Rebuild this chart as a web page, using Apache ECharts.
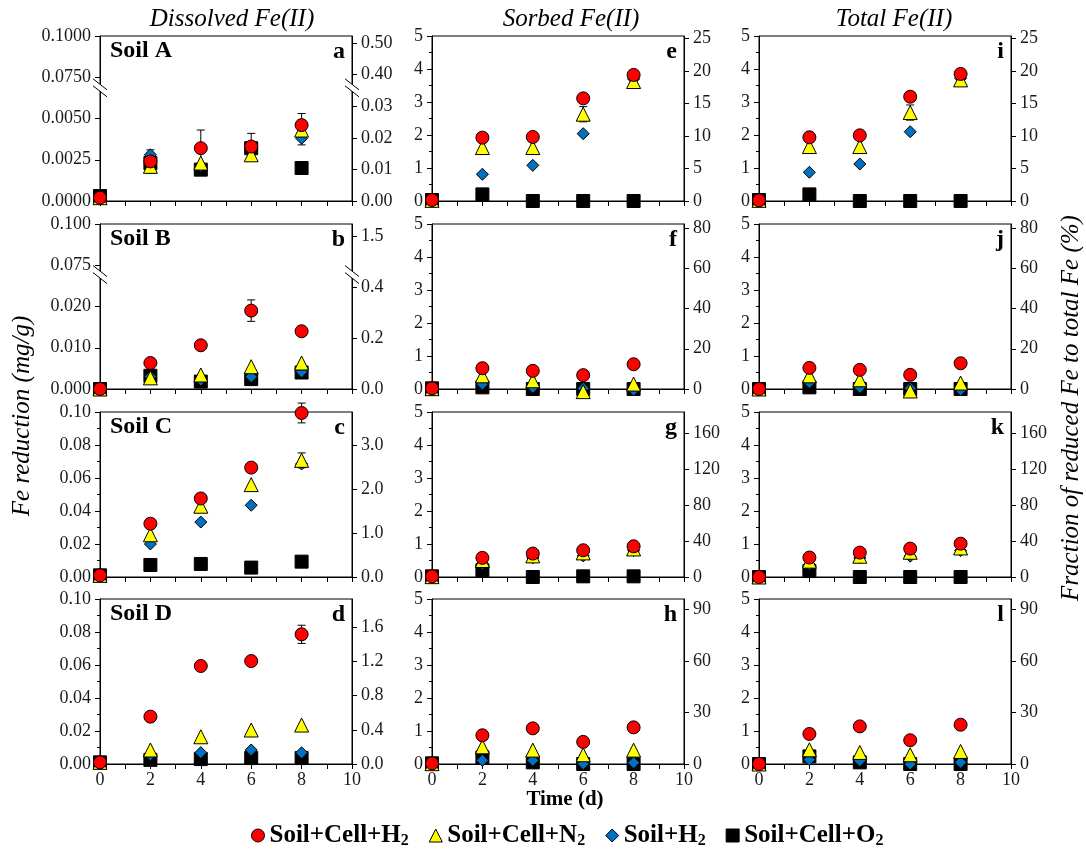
<!DOCTYPE html>
<html>
<head>
<meta charset="utf-8">
<script src="https://cdn.jsdelivr.net/npm/echarts@6/dist/echarts.min.js"></script>
<style>
html, body { margin: 0; padding: 0; background: #fff; }
#main { width: 1086px; height: 849px; }
</style>
</head>
<body>
<div id="main"></div>
<script>
// time points (d)
const days = [0, 2, 4, 6, 8];
const names = ['Soil+Cell+H2', 'Soil+Cell+N2', 'Soil+H2', 'Soil+Cell+O2'];

// Dissolved Fe(II), mg/g
const aCellH2 = [0.0002, 0.0024, 0.0032, 0.0033, 0.0046];
const aCellN2 = [0.0002, 0.0021, 0.0023, 0.0028, 0.0043];
const aSoilH2 = [0.0002, 0.0028, 0.0021, 0.0031, 0.0038];
const aCellO2 = [0.0003, 0.0023, 0.0019, 0.0032, 0.0020];
const aErrCellH2 = [0, 0.0007, 0.0011, 0.0008, 0.0007];
const aErrSoilH2 = [0, 0, 0, 0, 0.0004];

const bCellH2 = [0.0000, 0.0063, 0.0106, 0.0190, 0.0140];
const bCellN2 = [0.0000, 0.0027, 0.0034, 0.0054, 0.0063];
const bSoilH2 = [0.0000, 0.0030, 0.0022, 0.0030, 0.0042];
const bCellO2 = [0.0000, 0.0032, 0.0018, 0.0024, 0.0040];
const bErrCellH2 = [0, 0, 0, 0.0026, 0];

const cCellH2 = [0.001, 0.0323, 0.0476, 0.0663, 0.0994];
const cCellN2 = [0.001, 0.0256, 0.0429, 0.0560, 0.0707];
const cSoilH2 = [0.001, 0.0200, 0.0333, 0.0435, 0.0685];
const cCellO2 = [0.001, 0.0073, 0.0079, 0.0057, 0.0093];
const cErrCellH2 = [0, 0, 0, 0, 0.006];
const cErrCellN2 = [0, 0, 0, 0, 0.0045];

const dCellH2 = [0.001, 0.0287, 0.0594, 0.0624, 0.0786];
const dCellN2 = [0.001, 0.0085, 0.0165, 0.0206, 0.0236];
const dSoilH2 = [0.001, 0.0055, 0.0069, 0.0085, 0.0068];
const dCellO2 = [0.001, 0.0025, 0.0030, 0.0036, 0.0036];
const dErrCellH2 = [0, 0, 0, 0, 0.0055];

// Sorbed Fe(II), mg/g
const eCellH2 = [0.03, 1.92, 1.94, 3.11, 3.82];
const eCellN2 = [0.02, 1.62, 1.62, 2.63, 3.62];
const eSoilH2 = [0.02, 0.81, 1.08, 2.04, 3.70];
const eCellO2 = [0.03, 0.20, 0.00, 0.00, 0.00];
const eErrCellN2 = [0, 0, 0, 0.23, 0];

const fCellH2 = [0.02, 0.63, 0.55, 0.42, 0.75];
const fCellN2 = [0.01, 0.40, 0.25, -0.08, 0.15];
const fSoilH2 = [0.01, 0.15, 0.05, 0.02, -0.03];
const fCellO2 = [0.02, 0.05, 0.00, 0.00, 0.00];

const gCellH2 = [0.02, 0.58, 0.71, 0.81, 0.93];
const gCellN2 = [0.01, 0.50, 0.64, 0.73, 0.85];
const gSoilH2 = [0.01, 0.40, 0.58, 0.64, 0.80];
const gCellO2 = [0.02, 0.20, 0.00, 0.02, 0.02];

const hCellH2 = [0.02, 0.87, 1.08, 0.67, 1.11];
const hCellN2 = [0.01, 0.52, 0.42, 0.28, 0.42];
const hSoilH2 = [0.01, 0.11, 0.11, 0.01, 0.04];
const hCellO2 = [0.02, 0.20, 0.05, 0.00, 0.00];

// Total Fe(II), mg/g
const iCellH2 = [0.02, 1.93, 1.99, 3.16, 3.85];
const iCellN2 = [0.02, 1.65, 1.65, 2.68, 3.67];
const iSoilH2 = [0.02, 0.87, 1.12, 2.10, 3.72];
const iCellO2 = [0.03, 0.20, 0.00, 0.00, 0.00];
const iErrCellN2 = [0, 0, 0, 0.23, 0];

const jCellH2 = [0.00, 0.64, 0.58, 0.43, 0.78];
const jCellN2 = [0.00, 0.40, 0.28, -0.06, 0.18];
const jSoilH2 = [0.00, 0.20, 0.05, 0.02, -0.03];
const jCellO2 = [0.00, 0.05, 0.00, 0.00, 0.00];

const kCellH2 = [0.00, 0.59, 0.74, 0.86, 1.01];
const kCellN2 = [0.00, 0.48, 0.63, 0.75, 0.88];
const kSoilH2 = [0.00, 0.38, 0.58, 0.63, 0.80];
const kCellO2 = [0.00, 0.18, 0.00, 0.00, 0.00];

const lCellH2 = [0.00, 0.91, 1.14, 0.72, 1.19];
const lCellN2 = [0.00, 0.43, 0.35, 0.28, 0.38];
const lSoilH2 = [0.00, 0.13, 0.10, 0.00, 0.05];
const lCellO2 = [0.00, 0.23, 0.05, 0.00, 0.00];

// tick labels
const timeLabels = ['0', '2', '4', '6', '8', '10'];
const aLeftTicks = ['0.0000', '0.0025', '0.0050', '0.0750', '0.1000'];
const aRightTicks = ['0.00', '0.01', '0.02', '0.03', '0.40', '0.50'];
const bLeftTicks = ['0.000', '0.010', '0.020', '0.075', '0.100'];
const bRightTicks = ['0.0', '0.2', '0.4', '1.5'];
const cdLeftTicks = ['0.00', '0.02', '0.04', '0.06', '0.08', '0.10'];
const cRightTicks = ['0.0', '1.0', '2.0', '3.0'];
const dRightTicks = ['0.0', '0.4', '0.8', '1.2', '1.6'];
const mgTicks = ['0', '1', '2', '3', '4', '5'];
const pct25Ticks = ['0', '5', '10', '15', '20', '25'];
const pct80Ticks = ['0', '20', '40', '60', '80'];
const pct160Ticks = ['0', '40', '80', '120', '160'];
const pct90Ticks = ['0', '30', '60', '90'];

const colors = ['#ff0000', '#ffff00', '#0070c0', '#000000'];
const symbols = ['circle', 'triangle', 'diamond', 'rect'];
const sizes = [13, 14, 12, 13];

const SERIF = '"Liberation Serif", "Times New Roman", serif';
const colLeft = [100, 432, 759];
const rowTop = [36, 224, 412, 599];
const gridW = 252, gridH = 165;

const mgAxis = {max: 5, interval: 1, labels: mgTicks, minor: 2};
const panels = [
  {id: 'a', col: 0, row: 0, soil: 'Soil A', vals: [aCellH2, aCellN2, aSoilH2, aCellO2], errs: [aErrCellH2, null, aErrSoilH2, null],
   left: {max: 0.01, interval: 0.0025, labels: aLeftTicks}, right: {max: 0.0522, interval: 0.01, labels: aRightTicks}, brk: 0.0068},
  {id: 'b', col: 0, row: 1, soil: 'Soil B', vals: [bCellH2, bCellN2, bSoilH2, bCellO2], errs: [bErrCellH2, null, null, null],
   left: {max: 0.04, interval: 0.01, labels: bLeftTicks}, right: {max: 0.647, interval: 0.2, labels: bRightTicks}, brk: 0.0275},
  {id: 'c', col: 0, row: 2, soil: 'Soil C', vals: [cCellH2, cCellN2, cSoilH2, cCellO2], errs: [cErrCellH2, cErrCellN2, null, null],
   left: {max: 0.1, interval: 0.02, labels: cdLeftTicks, minor: 2}, right: {max: 3.75, interval: 1, labels: cRightTicks}},
  {id: 'd', col: 0, row: 3, soil: 'Soil D', vals: [dCellH2, dCellN2, dSoilH2, dCellO2], errs: [dErrCellH2, null, null, null],
   left: {max: 0.1, interval: 0.02, labels: cdLeftTicks, minor: 2}, right: {max: 1.93, interval: 0.4, labels: dRightTicks}},
  {id: 'e', col: 1, row: 0, vals: [eCellH2, eCellN2, eSoilH2, eCellO2], errs: [null, eErrCellN2, null, null],
   left: mgAxis, right: {max: 25.4, interval: 5, labels: pct25Ticks}},
  {id: 'f', col: 1, row: 1, vals: [fCellH2, fCellN2, fSoilH2, fCellO2], errs: [],
   left: mgAxis, right: {max: 82, interval: 20, labels: pct80Ticks}},
  {id: 'g', col: 1, row: 2, vals: [gCellH2, gCellN2, gSoilH2, gCellO2], errs: [],
   left: mgAxis, right: {max: 184, interval: 40, labels: pct160Ticks}},
  {id: 'h', col: 1, row: 3, vals: [hCellH2, hCellN2, hSoilH2, hCellO2], errs: [],
   left: mgAxis, right: {max: 96, interval: 30, labels: pct90Ticks}},
  {id: 'i', col: 2, row: 0, vals: [iCellH2, iCellN2, iSoilH2, iCellO2], errs: [null, iErrCellN2, null, null],
   left: mgAxis, right: {max: 25.4, interval: 5, labels: pct25Ticks}},
  {id: 'j', col: 2, row: 1, vals: [jCellH2, jCellN2, jSoilH2, jCellO2], errs: [],
   left: mgAxis, right: {max: 82, interval: 20, labels: pct80Ticks}},
  {id: 'k', col: 2, row: 2, vals: [kCellH2, kCellN2, kSoilH2, kCellO2], errs: [],
   left: mgAxis, right: {max: 184, interval: 40, labels: pct160Ticks}},
  {id: 'l', col: 2, row: 3, vals: [lCellH2, lCellN2, lSoilH2, lCellO2], errs: [],
   left: mgAxis, right: {max: 96, interval: 30, labels: pct90Ticks}}
];

const labelStyle = {fontFamily: SERIF, fontSize: 18, color: '#1a1a1a'};

function yAxisFor(i, cfg, pos) {
  const ticks = cfg.labels.map((_, k) => k * cfg.interval);
  return {
    gridIndex: i, type: 'value', position: pos, min: 0, max: cfg.max, interval: cfg.interval,
    axisLine: {show: true, lineStyle: {color: '#000', width: 1}},
    axisTick: {show: true, length: 5, lineStyle: {color: '#000'}, customValues: ticks},
    minorTick: {show: !!cfg.minor, splitNumber: cfg.minor || 1, length: 3, lineStyle: {color: '#000'}},
    axisLabel: Object.assign({margin: 9, customValues: ticks,
      formatter: v => cfg.labels[Math.round(v / cfg.interval)] || ''}, labelStyle),
    splitLine: {show: false}
  };
}

function errorRender(params, api) {
  const x = api.value(0), y = api.value(1), e = api.value(2);
  const top = api.coord([x, y + e]);
  const bot = api.coord([x, y - e]);
  const st = {stroke: '#000', lineWidth: 1};
  return {type: 'group', children: [
    {type: 'line', shape: {x1: top[0], y1: top[1], x2: bot[0], y2: bot[1]}, style: st},
    {type: 'line', shape: {x1: top[0] - 4, y1: top[1], x2: top[0] + 4, y2: top[1]}, style: st},
    {type: 'line', shape: {x1: bot[0] - 4, y1: bot[1], x2: bot[0] + 4, y2: bot[1]}, style: st}
  ]};
}

const grid = [], xAxis = [], yAxis = [], series = [], texts = [];
panels.forEach((p, i) => {
  const left = colLeft[p.col], top = rowTop[p.row];
  grid.push({left: left, top: top, width: gridW, height: gridH, show: true, borderColor: '#000', borderWidth: 1});
  xAxis.push({
    gridIndex: i, type: 'value', min: 0, max: 10, interval: 1,
    axisLine: {onZero: false, lineStyle: {color: '#000'}},
    axisTick: {length: 5, lineStyle: {color: '#000'}},
    axisLabel: Object.assign({show: p.row === 3, margin: 7,
      formatter: v => (v % 2 === 0 ? timeLabels[v / 2] : '')}, labelStyle),
    splitLine: {show: false}
  });
  yAxis.push(yAxisFor(i, p.left, 'left'));
  yAxis.push(yAxisFor(i, p.right, 'right'));
  // draw O2 first, cell+H2 last (on top)
  [3, 2, 1, 0].forEach(g => {
    const err = p.errs[g];
    if (err) {
      series.push({
        type: 'custom', xAxisIndex: i, yAxisIndex: 2 * i, renderItem: errorRender, silent: true,
        data: days.map((d, k) => [d, p.vals[g][k], err[k]]).filter(r => r[2] > 0)
      });
    }
    series.push({
      type: 'scatter', name: names[g], xAxisIndex: i, yAxisIndex: 2 * i, clip: false,
      symbol: symbols[g], symbolSize: sizes[g],
      itemStyle: {color: colors[g], borderColor: '#000', borderWidth: 1, opacity: 1},
      data: days.map((d, k) => [d, p.vals[g][k]])
    });
  });
  if (p.soil) {
    texts.push({type: 'text', x: left + 10, y: top + 15,
      style: {text: p.soil, font: 'bold 24px ' + SERIF, fill: '#000', textVerticalAlign: 'middle'}});
  }
  texts.push({type: 'text', x: left + gridW - 7, y: top + 16,
    style: {text: p.id, font: 'bold 24px ' + SERIF, fill: '#000', textAlign: 'right', textVerticalAlign: 'middle'}});
});

const colTitles = ['Dissolved Fe(II)', 'Sorbed Fe(II)', 'Total Fe(II)'];
const colTitleX = [232, 571, 894];
colTitles.forEach((t, c) => {
  texts.push({type: 'text', x: colTitleX[c], y: 19,
    style: {text: t, font: 'italic 25px ' + SERIF, fill: '#000', textAlign: 'center', textVerticalAlign: 'middle'}});
});
texts.push({type: 'text', x: 22, y: 416, rotation: Math.PI / 2,
  style: {text: 'Fe reduction (mg/g)', font: 'italic 25px ' + SERIF, fill: '#000', textAlign: 'center', textVerticalAlign: 'middle'}});
texts.push({type: 'text', x: 1071, y: 408, rotation: Math.PI / 2,
  style: {text: 'Fraction of reduced Fe to total Fe (%)', font: 'italic 25px ' + SERIF, fill: '#000', textAlign: 'center', textVerticalAlign: 'middle'}});
texts.push({type: 'text', x: 565, y: 800,
  style: {text: 'Time (d)', font: 'bold 21px ' + SERIF, fill: '#000', textAlign: 'center', textVerticalAlign: 'middle'}});

const chart = echarts.init(document.getElementById('main'));
chart.setOption({
  animation: false,
  backgroundColor: '#fff',
  grid: grid,
  xAxis: xAxis,
  yAxis: yAxis,
  series: series,
  legend: {
    top: 818, left: 246, itemGap: 20, itemWidth: 13, itemHeight: 13, selectedMode: false,
    data: names.map((n, g) => ({name: n, icon: symbols[g],
      itemStyle: {color: colors[g], borderColor: '#000', borderWidth: 1}})),
    formatter: n => n.replace(/(\d)$/, '{s|$1}'),
    textStyle: {fontFamily: SERIF, fontWeight: 'bold', fontSize: 25, color: '#000',
      rich: {s: {fontFamily: SERIF, fontWeight: 'bold', fontSize: 16, color: '#000', padding: [11, 0, 0, 0]}}}
  },
  graphic: texts
});

// axis break marks on the dissolved panels
const breaks = [];
panels.forEach((p, i) => {
  if (p.brk === undefined) return;
  const y = chart.convertToPixel({yAxisIndex: 2 * i}, p.brk);
  [colLeft[p.col], colLeft[p.col] + gridW].forEach(x => {
    breaks.push({type: 'polygon', z: 100, shape: {points: [[x - 7, y - 10], [x + 7, y + 1], [x + 7, y + 8], [x - 7, y - 3]]},
      style: {fill: '#fff', stroke: null}});
    breaks.push({type: 'line', z: 101, shape: {x1: x - 7, y1: y - 10, x2: x + 7, y2: y + 1}, style: {stroke: '#000', lineWidth: 1}});
    breaks.push({type: 'line', z: 101, shape: {x1: x - 7, y1: y - 3, x2: x + 7, y2: y + 8}, style: {stroke: '#000', lineWidth: 1}});
  });
});
chart.setOption({graphic: texts.concat(breaks)});
</script>
</body>
</html>
